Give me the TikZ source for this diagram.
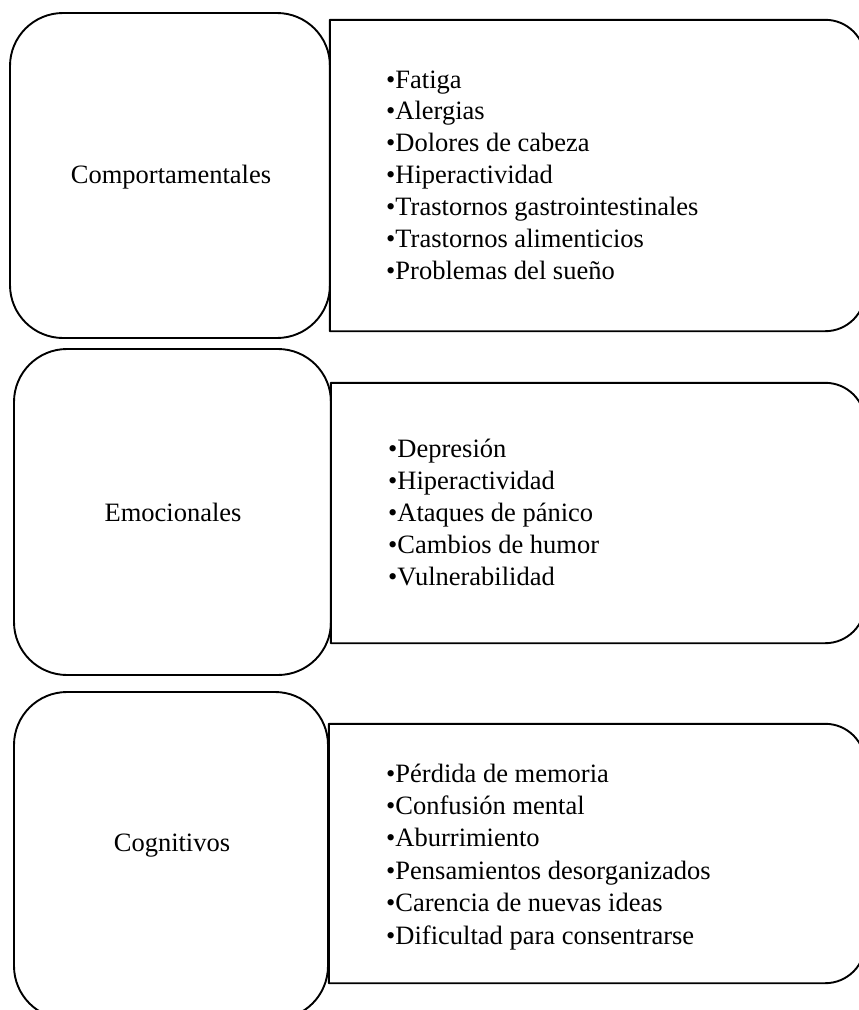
\documentclass[tikz,border=0pt]{standalone}
\usepackage{fontspec}
\setmainfont{Liberation Serif}
\usetikzlibrary{calc}
\newcommand\itm[1]{\hbox{\textbullet#1}}
\begin{document}
\begin{tikzpicture}[x=1pt,y=1pt,
  catbox/.style={draw, line width=1.9pt, rounded corners=53pt, inner sep=0pt},
  lbl/.style={anchor=base, inner sep=0pt, font=\fontsize{26.5}{32}\selectfont},
  lst/.style={anchor=base west, inner sep=0pt, font=\fontsize{26.5}{32}\selectfont},
  holder/.style={inner sep=0pt, draw=none},
  sidebox/.style={line width=1.9pt, line join=round}]
\clip (0,0) rectangle (859,-1010);
% left category boxes
\node[catbox, minimum width=320pt, minimum height=325pt] (c1) at (170,-175.5) {};
\node[catbox, minimum width=317pt, minimum height=326pt] (c2) at (172.5,-512) {};
\node[catbox, minimum width=314pt, minimum height=327pt] (c3) at (171,-855.5) {};
\node[lbl] (t1) at (171,-183) {Comportamentales};
\node[lbl] (t2) at (173,-521) {Emocionales};
\node[lbl] (t3) at (172,-851) {Cognitivos};
% right list boxes (holders)
\node[holder, minimum width=535pt, minimum height=311pt] (r1) at (597.5,-175.5) {};
\node[holder, minimum width=534pt, minimum height=260pt] (r2) at (598,-513) {};
\node[holder, minimum width=536pt, minimum height=259pt] (r3) at (597,-853.5) {};
\foreach \b in {r1,r2,r3}{
  \draw[sidebox] (\b.north west) -- ($(\b.north east)+(-40,0)$)
     arc[start angle=90,end angle=0,radius=40pt]
     -- ($(\b.south east)+(0,40)$)
     arc[start angle=0,end angle=-90,radius=40pt]
     -- (\b.south west) -- cycle;
}
% lists
\node[lst] (l1) at (386,-88) {\vtop{\baselineskip=31.9pt
  \itm{Fatiga}\itm{Alergias}\itm{Dolores de cabeza}\itm{Hiperactividad}
  \itm{Trastornos gastrointestinales}\itm{Trastornos alimenticios}\itm{Problemas del sueño}}};
\node[lst] (l2) at (388,-457) {\vtop{\baselineskip=32pt
  \itm{Depresión}\itm{Hiperactividad}\itm{Ataques de pánico}\itm{Cambios de humor}\itm{Vulnerabilidad}}};
\node[lst] (l3) at (386,-782) {\vtop{\baselineskip=32.4pt
  \itm{Pérdida de memoria}\itm{Confusión mental}\itm{Aburrimiento}\itm{Pensamientos desorganizados}
  \itm{Carencia de nuevas ideas}\itm{Dificultad para consentrarse}}};
\end{tikzpicture}
\end{document}
